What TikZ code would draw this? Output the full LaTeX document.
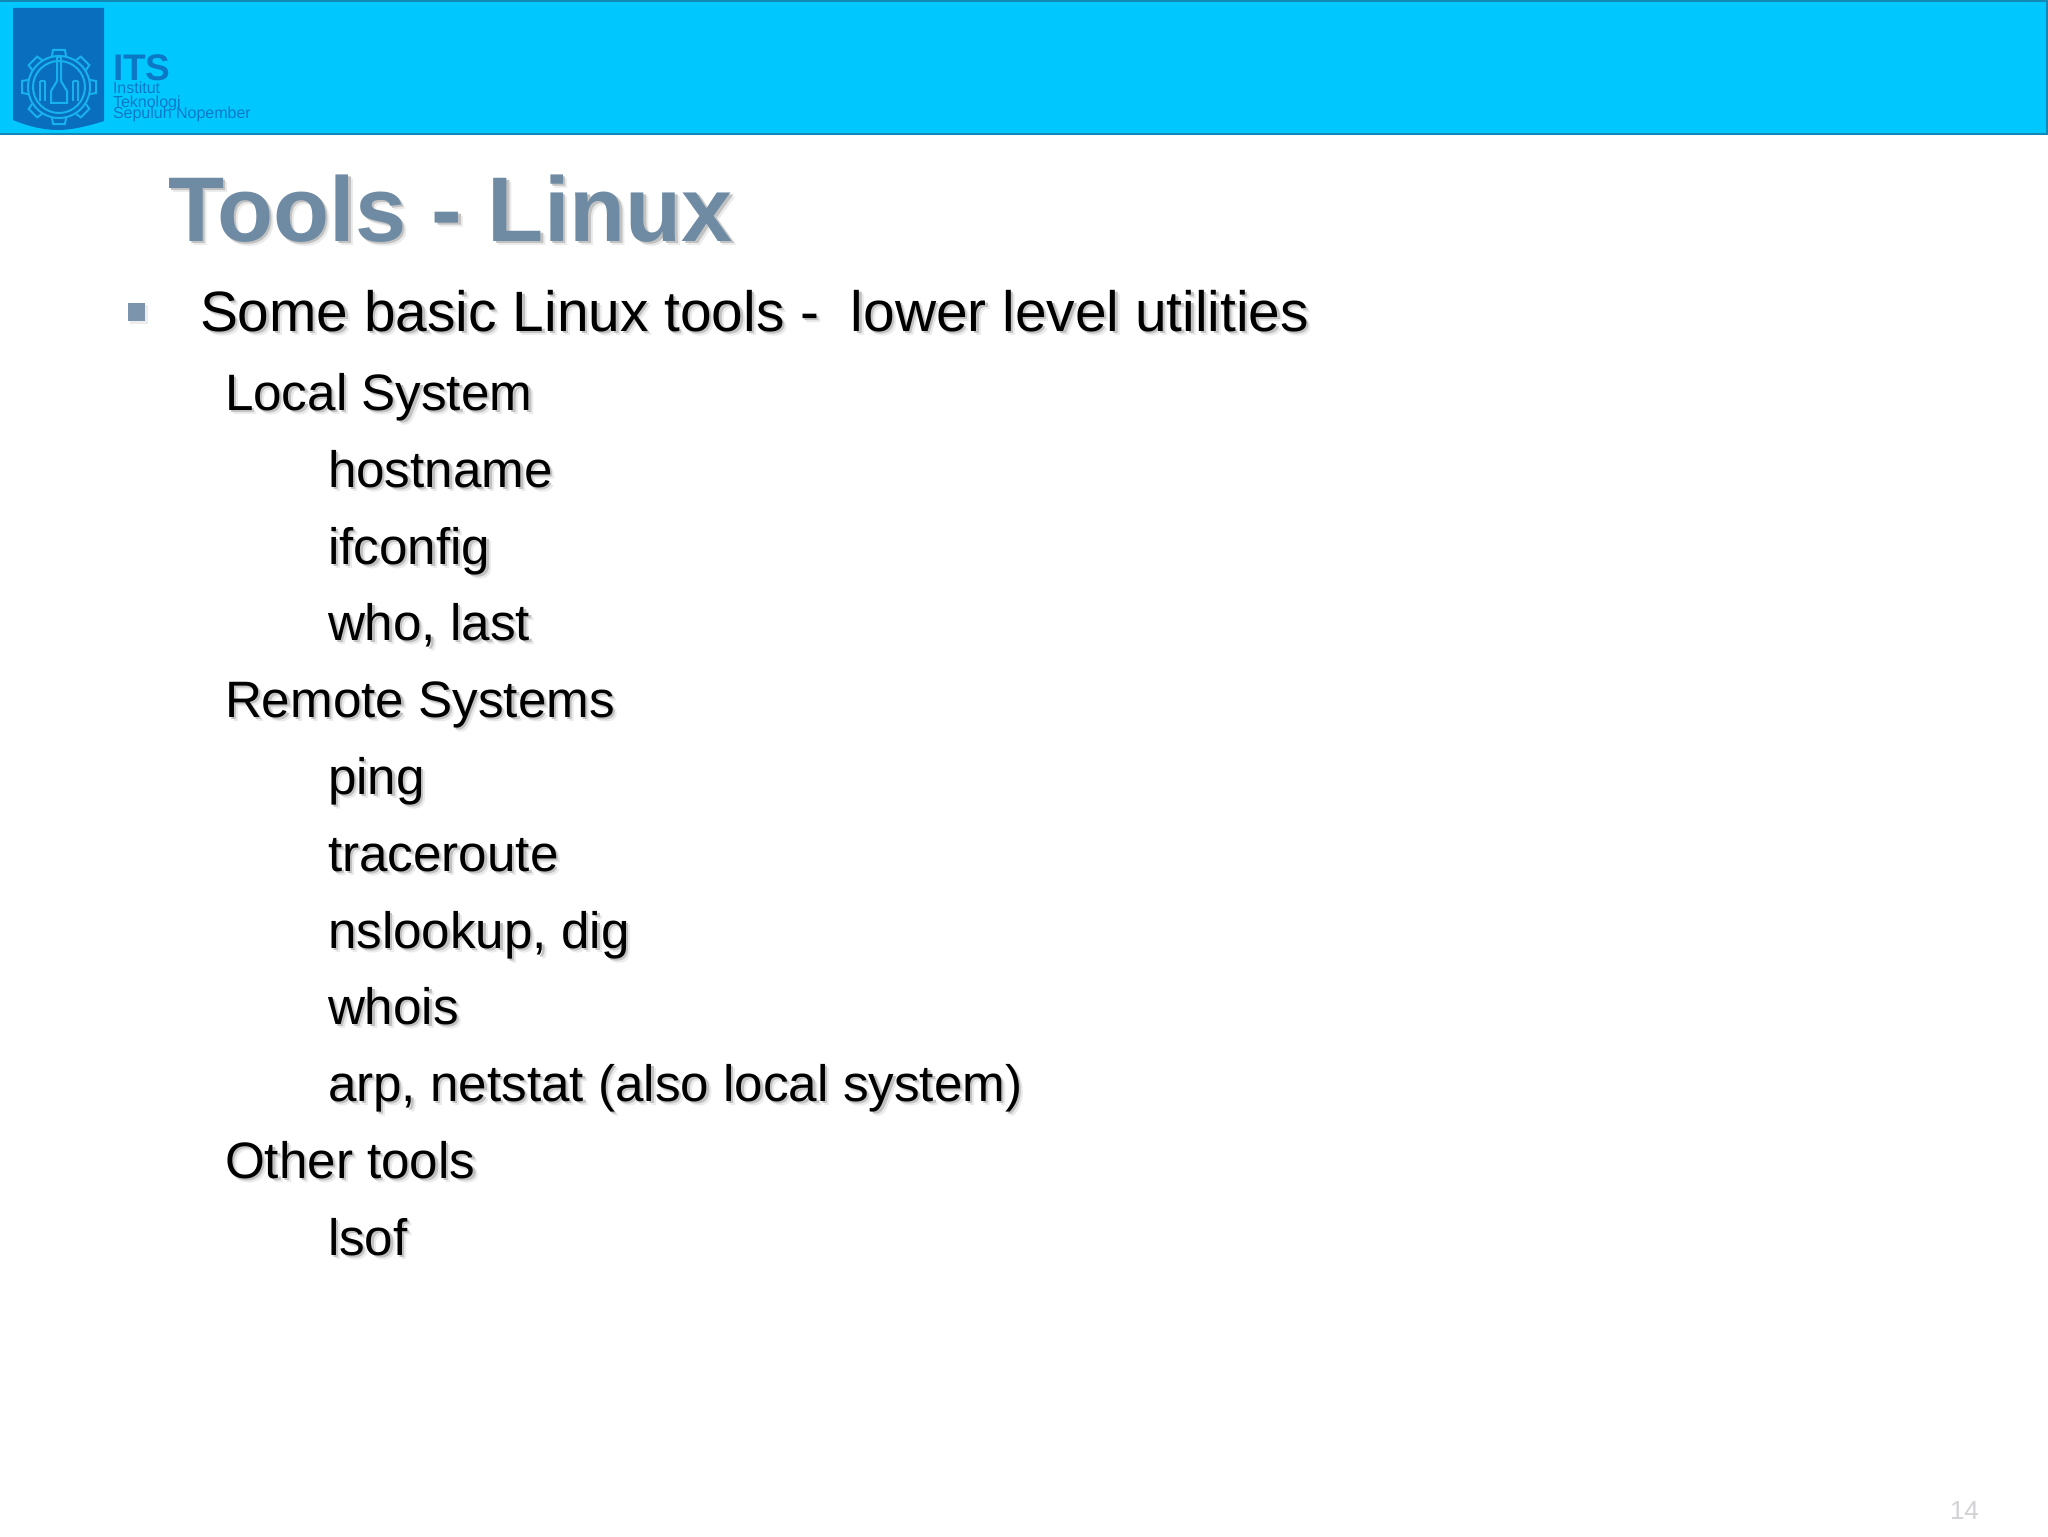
\documentclass[tikz,border=0pt]{standalone}
\usepackage{fontspec}
\setmainfont{Liberation Sans}
\definecolor{barblue}{HTML}{00C8FF}
\definecolor{barline}{HTML}{1488B4}
\definecolor{shieldblue}{HTML}{0A6EBE}
\definecolor{crest}{HTML}{17B2EE}
\definecolor{logotext}{HTML}{0B78C6}
\definecolor{titleblue}{HTML}{6E8BA3}
\definecolor{bulletblue}{HTML}{7D95AC}
\definecolor{numgray}{HTML}{D2D2D6}
\newcommand{\shtext}[5]{%
  \node[#4,text=black!8] at (#2+4.4,#3+4.4) {#5};
  \node[#4,text=black!24] at (#2+2.4,#3+2.4) {#5};
  \node[#4] (#1) at (#2,#3) {#5};}
\tikzset{
  txt/.style={anchor=base west,inner sep=0pt,outer sep=0pt},
  titletxt/.style={txt,font=\fontsize{45.95}{46}\bfseries\selectfont,text=titleblue},
  leadtxt/.style={txt,font=\fontsize{28.43}{30}\selectfont,text=black},
  subtxt/.style={txt,font=\fontsize{25.6}{28}\selectfont,text=black},
  logotxt/.style={txt,text=logotext},
  crestline/.style={draw=crest,line width=1pt},
}
\begin{document}
\begin{tikzpicture}[x=0.5pt,y=-0.5pt]
\useasboundingbox (0,0) rectangle (2048,1536);
\fill[white] (0,0) rectangle (2048,1536);
\fill[barblue] (0,0) rectangle (2048,134);
\draw[barline,line width=1pt] (0,1) -- (2048,1);
\draw[barline,line width=1pt] (0,134) -- (2048,134);
\draw[barline,line width=1pt] (2047,0) -- (2047,134);
% shield
\fill[shieldblue] (13,8) -- (104,8) -- (104,121) .. controls (85,127) and (70,130) .. (58,130) .. controls (45,130) and (30,127) .. (13,120) -- cycle;
% crest
\begin{scope}[shift={(59,87)}]
  \draw[crestline] (0,0) circle (26);
  \draw[crestline] (0,0) circle (31);
  \foreach \a in {0,45,...,315}{
    \draw[crestline,rotate=\a] (-7,-31) -- (-6,-37) -- (6,-37) -- (7,-31);
  }
  \draw[crestline] (-2,-30) -- (-2,-6) -- (-8,4) -- (-8,16) -- (8,16) -- (8,4) -- (2,-6) -- (2,-30) -- cycle;
  \draw[crestline] (-19,-6) -- (-19,14) (-14,-6) -- (-14,14) (-19,-6) -- (-14,-6);
  \draw[crestline] (14,-6) -- (14,14) (19,-6) -- (19,14) (14,-6) -- (19,-6);
\end{scope}
% logo text
\node[logotxt,font=\fontsize{18.5}{19}\bfseries\selectfont] (its) at (113,81) {ITS};
\node[logotxt,font=\fontsize{8}{8}\selectfont] (inst) at (113,94) {Institut};
\node[logotxt,font=\fontsize{8}{8}\selectfont] (tekn) at (113,107) {Teknologi};
\node[logotxt,font=\fontsize{8}{8}\selectfont] (sepu) at (113,119) {Sepuluh Nopember};
% title
\shtext{title}{168}{241}{titletxt}{Tools - Linux}
% bullet
\fill[black!7] (130,305) rectangle (148,324);
\fill[bulletblue] (128,303) rectangle (145,321);
% body
\shtext{lead}{200}{331.5}{leadtxt}{Some basic Linux tools -\ \ lower level utilities}
\shtext{local}{225}{410}{subtxt}{Local System}
\shtext{host}{328}{487}{subtxt}{hostname}
\shtext{ifc}{328}{564}{subtxt}{ifconfig}
\shtext{who}{328}{640.5}{subtxt}{who, last}
\shtext{remote}{225}{717}{subtxt}{Remote Systems}
\shtext{ping}{328}{794}{subtxt}{ping}
\shtext{trace}{328}{871}{subtxt}{traceroute}
\shtext{nslook}{328}{948}{subtxt}{nslookup, dig}
\shtext{whois}{328}{1024.5}{subtxt}{whois}
\shtext{arp}{328}{1101}{subtxt}{arp, netstat (also local system)}
\shtext{other}{225}{1178}{subtxt}{Other tools}
\shtext{lsof}{328}{1255}{subtxt}{lsof}
% slide number
\node[txt,font=\fontsize{13}{14}\selectfont,text=numgray] (num) at (1950,1519.5) {14};
\end{tikzpicture}
\end{document}
